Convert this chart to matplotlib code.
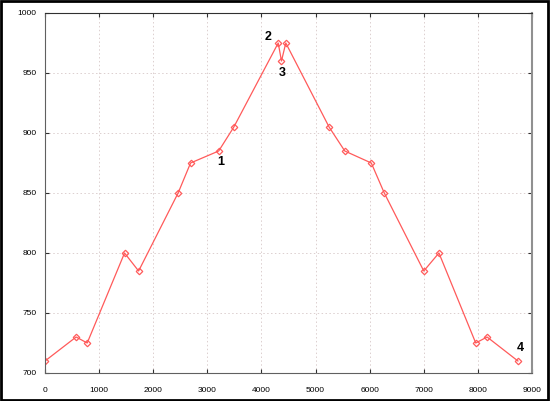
import matplotlib.pyplot as plt
from matplotlib.patches import Rectangle

# dane
x_vals = [0, 575, 780, 1470, 1730, 2460, 2690, 3210, 3490, 4310, 4370,
          4450, 5250, 5540, 6030, 6270, 7000, 7280, 7960, 8170, 8740]
y_vals = [710, 730, 725, 800, 785, 850, 875, 885, 905, 975, 960,
          975, 905, 885, 875, 850, 785, 800, 725, 730, 710]

# etykiety punktow
etykiety = ["1", "2", "3", "4"]
etykiety_x = [3240, 4120, 4380, 8790]
etykiety_y = [876, 980, 950, 721]

x_ticks = [0, 1000, 2000, 3000, 4000, 5000, 6000, 7000, 8000, 9000]
y_ticks = [700, 750, 800, 850, 900, 950, 1000]

plt.rcParams['font.family'] = ['Liberation Sans', 'DejaVu Sans']

fig = plt.figure(figsize=(5.5, 4.01), dpi=100)
ax = fig.add_axes([45 / 550, 1 - 373 / 401, 487 / 550, 360 / 401])

ax.plot(x_vals, y_vals, color='#ff5a5a', linewidth=0.9, marker='D',
        markersize=3.3, markerfacecolor='none', markeredgecolor='#ff5a5a',
        markeredgewidth=0.9)

for t, tx, ty in zip(etykiety, etykiety_x, etykiety_y):
    ax.text(tx, ty, t, fontsize=9, fontweight='bold', ha='center', va='center')

ax.set_xlim(0, 9000)
ax.set_ylim(700, 1000)
ax.set_xticks(x_ticks)
ax.set_yticks(y_ticks)
ax.tick_params(direction='in', length=3, labelsize=6, top=True, right=True,
               labelright=False, labeltop=False, color='#303030')
ax.tick_params(axis='x', pad=10)
ax.tick_params(axis='y', pad=6)

ax.grid(True, linestyle=(0, (1.5, 2.5)), color='#dccfcf', linewidth=0.7)
ax.set_axisbelow(True)

for s in ['left', 'bottom']:
    ax.spines[s].set_color('#606060')
ax.spines['top'].set_color('#303030')
ax.spines['right'].set_color('#909090')
ax.spines['right'].set_linewidth(1.5)

# czarna ramka wokol obrazka
fig.patches.append(Rectangle((0.001, 0.002), 0.996, 0.996, transform=fig.transFigure,
                             fill=False, edgecolor='black', linewidth=2))

plt.savefig('out.png', dpi=100)
